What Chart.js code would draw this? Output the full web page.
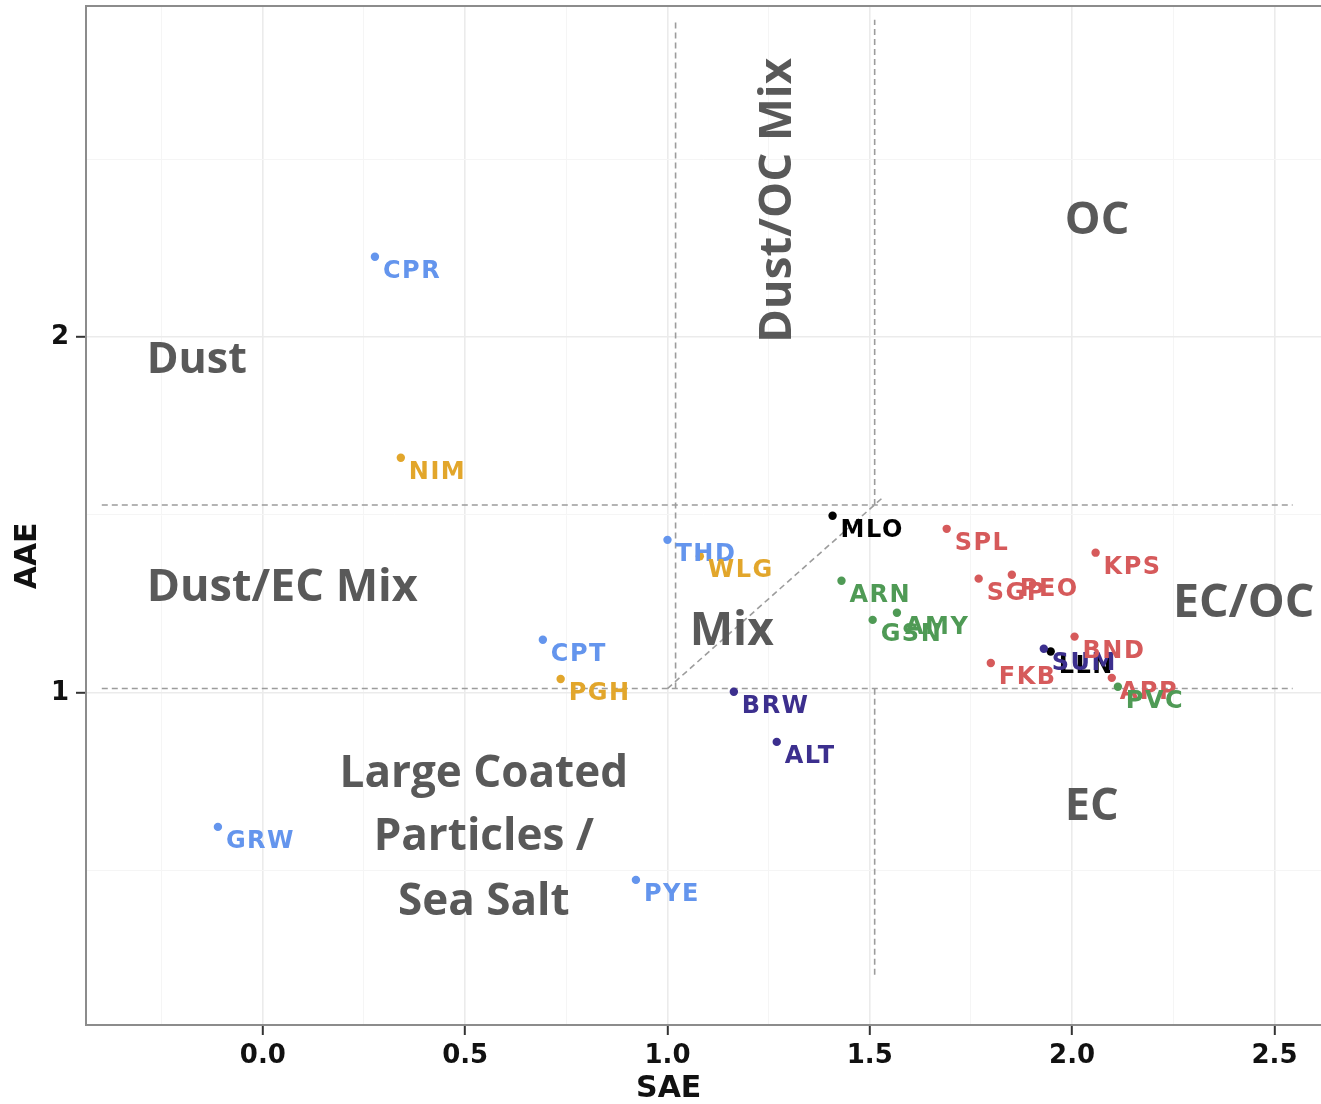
<!DOCTYPE html>
<html>
<head>
<meta charset="utf-8">
<title>AAE vs SAE</title>
<script src="https://cdn.jsdelivr.net/npm/chart.js@4.4.1/dist/chart.umd.min.js"></script>
<style>
  html, body { margin: 0; padding: 0; background: #ffffff; overflow: hidden; }
  canvas { display: block; }
</style>
</head>
<body>
<canvas id="chart" width="1321" height="1104"></canvas>
<script>
// Site codes with their scattering (SAE) and absorption (AAE) Angstrom exponents
const sites      = ['CPR', 'NIM', 'GRW', 'PYE', 'CPT', 'PGH', 'THD', 'WLG', 'BRW', 'ALT', 'MLO', 'ARN',
                    'GSN', 'AMY', 'SPL', 'SGP', 'PEO', 'KPS', 'FKB', 'LLN', 'SUM', 'BND', 'APP', 'PVC'];
const saeValues  = [0.277, 0.341, -0.111, 0.922, 0.692, 0.736, 1.000, 1.080, 1.164, 1.270, 1.408, 1.430,
                    1.507, 1.567, 1.690, 1.769, 1.851, 2.058, 1.799, 1.947, 1.930, 2.006, 2.098, 2.113];
const aaeValues  = [2.226, 1.661, 0.623, 0.474, 1.149, 1.039, 1.430, 1.384, 1.003, 0.862, 1.498, 1.315,
                    1.205, 1.225, 1.461, 1.321, 1.332, 1.394, 1.084, 1.116, 1.124, 1.158, 1.042, 1.017];
const siteGroups = ['blue', 'gold', 'blue', 'blue', 'blue', 'gold', 'blue', 'gold', 'purple', 'purple', 'black', 'green',
                    'green', 'green', 'red', 'red', 'red', 'red', 'red', 'black', 'purple', 'red', 'red', 'green'];

// Axis ranges and tick spacing
const xRange = [-0.437, 2.615];
const yRange = [0.066, 2.931];
const xMajorStep = 0.5, xMinorStep = 0.25;
const yMajorStep = 1, yMinorStep = 0.5;

// Class boundaries, each as [x1, y1, x2, y2]
const boundarySegments = [
  [-0.398, 1.528, 2.545, 1.528],
  [-0.398, 1.012, 2.545, 1.012],
  [1.020, 1.012, 1.020, 2.892],
  [1.512, 1.528, 1.512, 2.892],
  [1.512, 0.207, 1.512, 1.012],
  [1.000, 1.012, 1.535, 1.552]
];

// Class names written inside the plot
const regionNames = ['Dust', 'Dust/EC Mix', 'Dust/OC Mix', 'OC', 'EC/OC', 'Mix', 'EC',
                     'Large Coated', 'Particles /', 'Sea Salt'];

const groupColors = {
  blue: '#6495ed', gold: '#e2a62b', purple: '#3c2f8e',
  black: '#000000', green: '#4f9a55', red: '#d65a5b'
};

// Where each class name sits (data units), its size, and whether it runs upward
const regionPlacement = [
  { x: -0.287, y: 1.900, align: 'left', size: 43 },
  { x: -0.287, y: 1.259, align: 'left', size: 45 },
  { x: 1.305, y: 1.984, align: 'left', size: 45.5, rotate: true },
  { x: 1.982, y: 2.290, align: 'left', size: 45 },
  { x: 2.249, y: 1.214, align: 'left', size: 46.5 },
  { x: 1.055, y: 1.135, align: 'left', size: 46 },
  { x: 1.982, y: 0.643, align: 'left', size: 45 },
  { x: 0.546, y: 0.735, align: 'center', size: 44 },
  { x: 0.546, y: 0.559, align: 'center', size: 44 },
  { x: 0.546, y: 0.376, align: 'center', size: 44 }
];

const isMultiple = (v, step) => Math.abs(v / step - Math.round(v / step)) < 1e-6;

function buildDatasets() {
  const sets = [];
  boundarySegments.forEach(s => {
    sets.push({
      type: 'line',
      data: [{ x: s[0], y: s[1] }, { x: s[2], y: s[3] }],
      borderColor: '#9c9c9c',
      borderWidth: 1.6,
      borderDash: [6, 4],
      pointRadius: 0,
      fill: false,
      order: 10
    });
  });
  Object.keys(groupColors).forEach(g => {
    const pts = [];
    sites.forEach((s, i) => {
      if (siteGroups[i] === g) pts.push({ x: saeValues[i], y: aaeValues[i] });
    });
    sets.push({
      type: 'scatter',
      data: pts,
      backgroundColor: groupColors[g],
      borderWidth: 0,
      pointRadius: 4.2,
      pointStyle: 'circle',
      order: 0
    });
  });
  return sets;
}

const labelPlugin = {
  id: 'siteAndRegionLabels',
  afterDatasetsDraw(chart) {
    const { ctx, scales: { x, y } } = chart;
    ctx.save();
    // site names next to their points
    ctx.font = 'bold 24px "DejaVu Sans"';
    ctx.letterSpacing = '1.5px';
    ctx.textAlign = 'left';
    ctx.textBaseline = 'alphabetic';
    sites.forEach((name, i) => {
      ctx.fillStyle = groupColors[siteGroups[i]];
      ctx.fillText(name, x.getPixelForValue(saeValues[i]) + 8, y.getPixelForValue(aaeValues[i]) + 21);
    });
    ctx.letterSpacing = '0px';
    // class names
    ctx.fillStyle = '#595959';
    regionNames.forEach((name, i) => {
      const p = regionPlacement[i];
      const px = x.getPixelForValue(p.x), py = y.getPixelForValue(p.y);
      ctx.save();
      ctx.font = 'bold ' + p.size + 'px "Open Sans"';
      ctx.translate(px, py);
      if (p.rotate) ctx.rotate(-Math.PI / 2);
      ctx.textAlign = p.align;
      ctx.fillText(name, 0, 0);
      ctx.restore();
    });
    ctx.restore();
  },
  afterDraw(chart) {
    const { ctx, chartArea: a, scales: { x, y } } = chart;
    ctx.save();
    // panel border
    ctx.strokeStyle = '#8c8c8c';
    ctx.lineWidth = 2;
    ctx.beginPath();
    ctx.moveTo(a.right + 2, a.top);
    ctx.lineTo(a.left, a.top);
    ctx.lineTo(a.left, a.bottom);
    ctx.lineTo(a.right + 2, a.bottom);
    ctx.stroke();
    // axis titles
    ctx.fillStyle = '#111111';
    ctx.font = 'bold 30px "DejaVu Sans"';
    ctx.textAlign = 'center';
    ctx.textBaseline = 'alphabetic';
    ctx.fillText('SAE', x.getPixelForValue(1.003), 1097);
    ctx.save();
    ctx.translate(28, y.getPixelForValue(1.385));
    ctx.rotate(-Math.PI / 2);
    ctx.textBaseline = 'middle';
    ctx.fillText('AAE', 0, 0);
    ctx.restore();
    ctx.restore();
  }
};

function axisOptions(range, major, minor, size, isX) {
  return {
    type: 'linear',
    position: isX ? 'bottom' : 'left',
    min: range[0],
    max: range[1],
    afterFit: s => {
      if (isX) { s.height = size; s.paddingLeft = 0; s.paddingRight = 0; }
      else { s.width = size; s.paddingTop = 0; s.paddingBottom = 0; }
    },
    border: { display: false },
    grid: {
      color: c => (c.tick && isMultiple(c.tick.value, major)) ? '#ebebeb' : '#f5f5f5',
      lineWidth: c => (c.tick && isMultiple(c.tick.value, major)) ? 1.6 : 1,
      tickColor: c => (c.tick && isMultiple(c.tick.value, major)) ? '#333333' : 'rgba(0,0,0,0)',
      tickLength: 10,
      tickWidth: 2
    },
    ticks: {
      stepSize: minor,
      includeBounds: false,
      autoSkip: false,
      maxRotation: 0,
      padding: isX ? 6 : 7,
      color: '#111111',
      font: { family: '"DejaVu Sans"', weight: 'bold', size: 26 },
      callback: v => isMultiple(v, major) ? (isX ? Number(v).toFixed(1) : String(Math.round(v))) : ''
    }
  };
}

function draw() {
  new Chart(document.getElementById('chart'), {
    type: 'scatter',
    data: { datasets: buildDatasets() },
    options: {
      responsive: false,
      animation: false,
      devicePixelRatio: 1,
      layout: { autoPadding: false, padding: { top: 6, right: 0, bottom: 0, left: 0 } },
      plugins: { legend: { display: false }, tooltip: { enabled: false } },
      scales: {
        x: axisOptions(xRange, xMajorStep, xMinorStep, 79, true),
        y: axisOptions(yRange, yMajorStep, yMinorStep, 86, false)
      }
    },
    plugins: [labelPlugin]
  });
}

Promise.all([
  document.fonts.load('bold 43px "Open Sans"'),
  document.fonts.load('bold 24px "DejaVu Sans"')
]).then(draw, draw);
</script>
</body>
</html>
